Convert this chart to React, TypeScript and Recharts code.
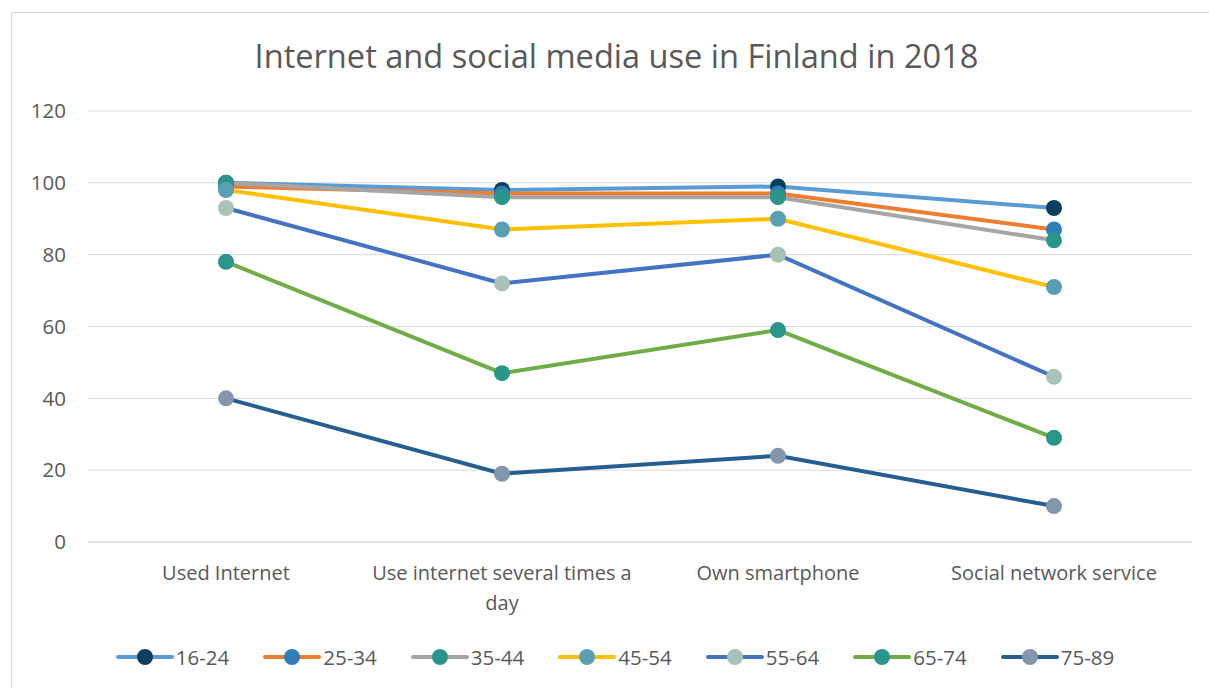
import React from "react";
import { LineChart, Line, XAxis, YAxis, CartesianGrid, Legend } from "recharts";

const categories = [
  "Used Internet",
  "Use internet several times a day",
  "Own smartphone",
  "Social network service",
];

const age16to24 = [100, 98, 99, 93];
const age25to34 = [99, 97, 97, 87];
const age35to44 = [100, 96, 96, 84];
const age45to54 = [98, 87, 90, 71];
const age55to64 = [93, 72, 80, 46];
const age65to74 = [78, 47, 59, 29];
const age75to89 = [40, 19, 24, 10];

const yTicks = [0, 20, 40, 60, 80, 100, 120];

const series = [
  { key: "16-24", values: age16to24, line: "#5B9BD5", dot: "#0B3F5E" },
  { key: "25-34", values: age25to34, line: "#ED7D31", dot: "#2E7EB8" },
  { key: "35-44", values: age35to44, line: "#A5A5A5", dot: "#2A968A" },
  { key: "45-54", values: age45to54, line: "#FFC000", dot: "#5A9EB3" },
  { key: "55-64", values: age55to64, line: "#4472C4", dot: "#A9C2B6" },
  { key: "65-74", values: age65to74, line: "#70AD47", dot: "#2A968A" },
  { key: "75-89", values: age75to89, line: "#255E91", dot: "#8496AD" },
];

const data = categories.map((name, i) => {
  const row: Record<string, string | number> = { name };
  series.forEach((s) => {
    row[s.key] = s.values[i];
  });
  return row;
});

const FONT = "'Open Sans', sans-serif";
const TEXT = "#595959";
const TICK_SIZE = 20;

let ctx: CanvasRenderingContext2D | null = null;
function measure(str: string) {
  if (!ctx) ctx = document.createElement("canvas").getContext("2d");
  if (!ctx) return str.length * TICK_SIZE * 0.5;
  ctx.font = `${TICK_SIZE}px ${FONT}`;
  return ctx.measureText(str).width;
}

// wrap words into lines no wider than maxWidth
function wrap(label: string, maxWidth: number) {
  const lines: string[] = [];
  let cur = "";
  label.split(" ").forEach((w) => {
    const next = cur ? cur + " " + w : w;
    if (cur && measure(next) > maxWidth) {
      lines.push(cur);
      cur = w;
    } else {
      cur = next;
    }
  });
  if (cur) lines.push(cur);
  return lines;
}

function CategoryTick({ x, y, payload }: any) {
  const lines = wrap(String(payload.value), 268);
  return (
    <text
      x={x}
      y={y + 16}
      textAnchor="middle"
      fontSize={TICK_SIZE}
      fontFamily={FONT}
      fill={TEXT}
    >
      {lines.map((l, i) => (
        <tspan key={i} x={x} dy={i === 0 ? "0.71em" : 30}>
          {l}
        </tspan>
      ))}
    </text>
  );
}

function LegendContent() {
  return (
    <div
      style={{
        display: "flex",
        justifyContent: "center",
        alignItems: "center",
        fontFamily: FONT,
        fontSize: 20.5,
        color: TEXT,
      }}
    >
      {series.map((s) => (
        <div key={s.key} style={{ display: "flex", alignItems: "center", margin: "0 17px" }}>
          <svg width={58} height={18}>
            <line x1={2} y1={9} x2={56} y2={9} stroke={s.line} strokeWidth={4} strokeLinecap="round" />
            <circle cx={29} cy={9} r={8} fill={s.dot} />
          </svg>
          <span style={{ marginLeft: 2 }}>{s.key}</span>
        </div>
      ))}
    </div>
  );
}

export default function App() {
  return (
    <div
      style={{
        position: "absolute",
        left: 0,
        top: 0,
        width: 1209,
        height: 688,
        overflow: "hidden",
        background: "#fff",
      }}
    >
      <div
        style={{
          position: "absolute",
          left: 11,
          top: 12,
          width: 1400,
          height: 900,
          borderTop: "1.5px solid #D9D9D9",
          borderLeft: "1.5px solid #D9D9D9",
        }}
      />
      <div
        style={{
          position: "absolute",
          top: 33,
          left: 0,
          width: 1233,
          textAlign: "center",
          fontFamily: FONT,
          fontSize: 32.6,
          color: TEXT,
        }}
      >
        Internet and social media use in Finland in 2018
      </div>
      <LineChart
        width={1209}
        height={688}
        data={data}
        margin={{ top: 111, right: 17, bottom: 46, left: 0 }}
        style={{ position: "absolute", left: 0, top: 0 }}
      >
        <CartesianGrid vertical={false} stroke="#D9D9D9" strokeWidth={1} />
        <XAxis
          dataKey="name"
          axisLine={{ stroke: "#D9D9D9" }}
          tickLine={false}
          tick={<CategoryTick />}
          interval={0}
          height={100}
          padding={{ left: 138, right: 138 }}
        />
        <YAxis
          domain={[0, 120]}
          ticks={yTicks}
          axisLine={false}
          tickLine={false}
          width={88}
          tickMargin={16}
          tick={{ fontSize: 20.5, fontFamily: FONT, fill: TEXT }}
        />
        {series.map((s) => (
          <Line
            key={s.key}
            dataKey={s.key}
            stroke={s.line}
            strokeWidth={4}
            dot={{ r: 8, fill: s.dot, stroke: "none" }}
            activeDot={false}
            isAnimationActive={false}
          />
        ))}
        <Legend
          layout="horizontal"
          verticalAlign="middle"
          align="center"
          content={<LegendContent />}
          wrapperStyle={{ position: "absolute", top: 643, left: 0, width: 1230 }}
        />
      </LineChart>
    </div>
  );
}
